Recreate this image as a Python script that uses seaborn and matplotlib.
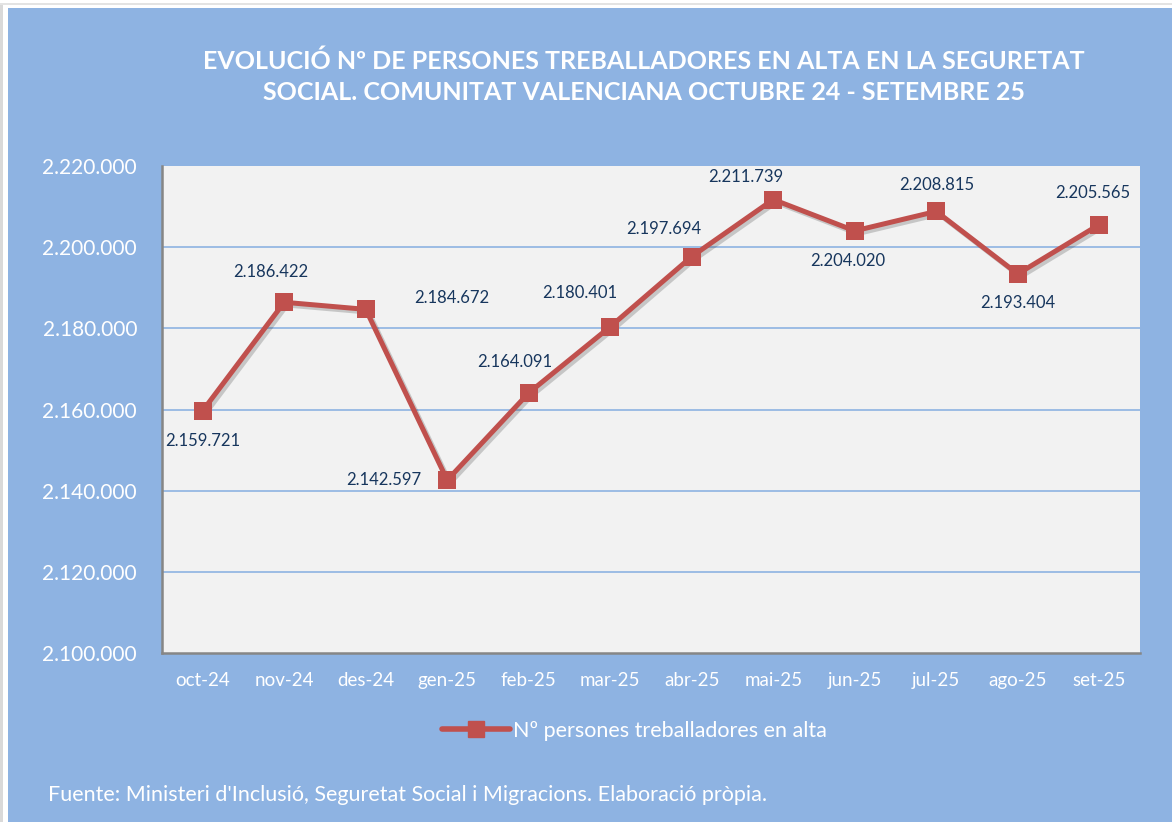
import matplotlib
matplotlib.use("Agg")
import matplotlib.pyplot as plt
import matplotlib.patheffects as pe
import matplotlib.ticker as mticker
from matplotlib.lines import Line2D
from matplotlib.patches import Rectangle
import pandas as pd
import seaborn as sns

# ---------------------------------------------------------------------------
# Data
# ---------------------------------------------------------------------------

months = ["oct-24", "nov-24", "des-24", "gen-25", "feb-25", "mar-25",
          "abr-25", "mai-25", "jun-25", "jul-25", "ago-25", "set-25"]
workers = [2159721, 2186422, 2184672, 2142597, 2164091, 2180401,
           2197694, 2211739, 2204020, 2208815, 2193404, 2205565]

# label offsets (points) relative to each marker
label_offsets = [(0, -22), (-10, 22), (62, 8), (-46, 0), (-10, 22), (-22, 24),
                 (-20, 20), (-20, 16), (-5, -22), (0, 19), (0, -21), (-5, 23)]

series_name = "Nº persones treballadores en alta"
title = ("EVOLUCIÓ Nº DE PERSONES TREBALLADORES EN ALTA EN LA SEGURETAT\n"
         "SOCIAL. COMUNITAT VALENCIANA OCTUBRE 24 - SETEMBRE 25")
source = "Fuente: Ministeri d'Inclusió, Seguretat Social i Migracions. Elaboració pròpia."

df = pd.DataFrame({"mes": months, "alta": workers})
df["pos"] = range(len(df))

# ---------------------------------------------------------------------------
# Style
# ---------------------------------------------------------------------------

BLUE = "#8EB3E2"
RED = "#C0504D"
NAVY = "#17365D"

sns.set_theme(style="white")
plt.rcParams["font.family"] = ["Lato", "DejaVu Sans"]

W, H = 1172, 822
fig = plt.figure(figsize=(W / 100, H / 100), dpi=100)
fig.patch.set_facecolor("#FFFFFF")
fig.patches.append(Rectangle((8 / W, 0), 1 - 8 / W, 1 - 8 / H,
                             transform=fig.transFigure, facecolor=BLUE,
                             edgecolor="none", zorder=-10))
fig.patches.append(Rectangle((0, 0), 3 / W, 1 - 5 / H,
                             transform=fig.transFigure, facecolor="#D9D9D9",
                             edgecolor="none", zorder=-11))
fig.patches.append(Rectangle((0, 1 - 5 / H), 1, 2 / H,
                             transform=fig.transFigure, facecolor="#E3E3E3",
                             edgecolor="none", zorder=-11))

ax = fig.add_axes([162 / W, 1 - 653 / H, (1140 - 162) / W, (653 - 166) / H])
ax.set_facecolor("#F2F2F2")

# line with a soft shadow, markers drawn on top without shadow
sns.lineplot(data=df, x="pos", y="alta", ax=ax, color=RED, linewidth=3.6,
             zorder=3,
             path_effects=[pe.SimpleLineShadow(offset=(2, -2), alpha=0.2),
                           pe.Normal()])
sns.scatterplot(data=df, x="pos", y="alta", ax=ax, color=RED, marker="s",
                s=150, edgecolor=RED, linewidth=0, zorder=4)

for x, y, (dx, dy) in zip(df["pos"], df["alta"], label_offsets):
    ax.annotate(f"{y:,}".replace(",", "."), (x, y), xytext=(dx, dy),
                textcoords="offset points", ha="center", va="center",
                fontsize=12, color=NAVY, zorder=5)

ax.set_xlim(-0.5, len(months) - 0.5)
ax.set_ylim(2100000, 2220000)
ax.set_xticks(df["pos"])
ax.set_xticklabels(months)
ax.xaxis.set_minor_locator(mticker.FixedLocator([i - 0.5 for i in range(len(months) + 1)]))
ax.tick_params(axis="x", which="major", length=0, pad=14, labelsize=13.5, colors="white")
ax.tick_params(axis="x", which="minor", length=6, width=1.5, color="#868686", direction="out")
ax.set_yticks(range(2100000, 2220001, 20000))
ax.yaxis.set_major_formatter(mticker.FuncFormatter(lambda v, _: f"{int(v):,}".replace(",", ".")))
ax.tick_params(axis="y", length=6, width=1.5, color="#868686", direction="out",
               labelsize=15, labelcolor="white", pad=12)

for g in range(2120000, 2200001, 20000):
    ax.axhline(g, color="#8EB3E2", linewidth=1.2, zorder=1)

for side in ("top", "right"):
    ax.spines[side].set_visible(False)
for side in ("left", "bottom"):
    ax.spines[side].set_color("#868686")
    ax.spines[side].set_linewidth(1.8)
ax.set_xlabel("")
ax.set_ylabel("")

# legend handle: line + square marker, like the original
handle = Line2D([], [], color=RED, linewidth=4, marker="s", markersize=12,
                markeredgecolor=RED, solid_capstyle="round")
ax.legend([handle], [series_name], loc="center",
          bbox_to_anchor=(634 / W, 1 - 731 / H), bbox_transform=fig.transFigure,
          frameon=False, fontsize=15.5, labelcolor="white",
          handlelength=3.2, handletextpad=0.1)

fig.text(644 / W, 1 - 77 / H, title, ha="center", va="center", color="white",
         fontsize=18, fontweight="bold", linespacing=1.4)
fig.text(48 / W, 1 - 795 / H, source, ha="left", va="center", color="white",
         fontsize=15.5)

fig.savefig("out.png", dpi=100, facecolor=fig.get_facecolor())
